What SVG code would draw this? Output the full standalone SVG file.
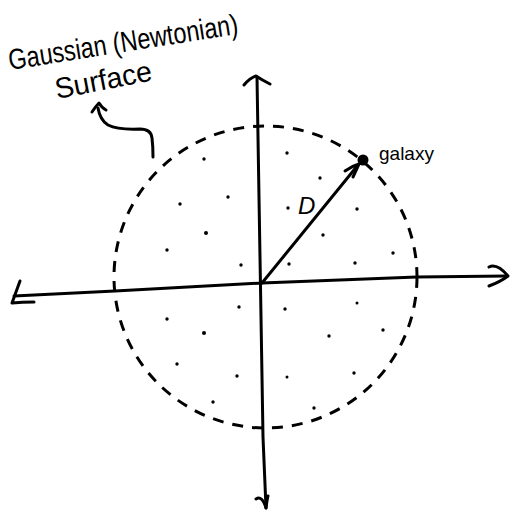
<svg xmlns="http://www.w3.org/2000/svg" width="520" height="519" viewBox="0 0 520 519">
<style>
.ln{fill:none;stroke:#000;stroke-width:3;stroke-linecap:round;stroke-linejoin:round}
.dash{fill:none;stroke:#000;stroke-width:3;stroke-dasharray:11 9}
.hw{font-family:"Liberation Sans",Arial,sans-serif;fill:#000}
.dot{fill:#000}
</style>
<rect width="520" height="519" fill="#fff"/>
<g id="surface">
<ellipse class="dash" cx="265.5" cy="277" rx="151.5" ry="151"/>
</g>
<g id="dots">
<circle class="dot" cx="287" cy="153" r="1.7"/><circle class="dot" cx="204" cy="159" r="1.7"/>
<circle class="dot" cx="320" cy="178" r="1.7"/><circle class="dot" cx="228" cy="197" r="1.7"/>
<circle class="dot" cx="180" cy="204" r="1.7"/><circle class="dot" cx="288" cy="208" r="1.7"/>
<circle class="dot" cx="357" cy="209" r="1.7"/><circle class="dot" cx="206" cy="233" r="2"/>
<circle class="dot" cx="323" cy="235" r="1.7"/><circle class="dot" cx="167" cy="250" r="1.7"/>
<circle class="dot" cx="393" cy="253" r="1.7"/><circle class="dot" cx="241" cy="265" r="1.7"/>
<circle class="dot" cx="289" cy="264" r="1.7"/><circle class="dot" cx="355" cy="263" r="1.7"/>
<circle class="dot" cx="239" cy="307" r="1.7"/><circle class="dot" cx="285" cy="309" r="1.7"/>
<circle class="dot" cx="357" cy="303" r="1.5"/><circle class="dot" cx="167" cy="319" r="1.7"/>
<circle class="dot" cx="204" cy="333" r="2"/><circle class="dot" cx="329" cy="336" r="1.7"/>
<circle class="dot" cx="383" cy="330" r="1.7"/><circle class="dot" cx="177" cy="364" r="1.7"/>
<circle class="dot" cx="237" cy="376" r="1.7"/><circle class="dot" cx="287" cy="377" r="1.5"/>
<circle class="dot" cx="354" cy="373" r="1.7"/><circle class="dot" cx="213" cy="402" r="1.7"/>
<circle class="dot" cx="314" cy="408" r="1.7"/>
</g>
<g id="connectors">
<path class="ln" d="M257 77 L263 437 L266 508"/>
<path class="ln" d="M244 85 Q250 78 256 76 Q262 80 270 84"/>
<path class="ln" d="M256 499 Q262 495 266 508 Q267 500 268 496"/>
<path class="ln" d="M14 296 L115 291 L262 283 L417 277 L507 276"/>
<path class="ln" d="M20 281 Q16 292 12 303 Q22 302 34 302"/>
<path class="ln" d="M489 267 Q497 263 508 276 Q500 282 489 286"/>
<path class="ln" d="M262 283 L358 165"/>
<path class="ln" d="M345 171 Q352 166 359 164 Q356 171 353 177"/>
<path class="ln" d="M153 157 Q153 146 152 138 Q151 129 140 129 Q118 130 108 125 Q100 120 98 108"/>
<path class="ln" d="M92 112 Q96 106 99 103 Q102 108 106 110"/>
</g>
<g id="galaxy">
<circle cx="363" cy="160" r="5.5" fill="#000"/>
<text class="hw" x="379" y="160" font-size="19">galaxy</text>
</g>
<g id="label-D">
<text class="hw" x="298" y="214" font-size="24" font-style="italic">D</text>
</g>
<g id="title">
<text class="hw" font-size="29" textLength="232" lengthAdjust="spacingAndGlyphs" transform="translate(10 70) rotate(-9)">Gaussian (Newtonian)</text>
<text class="hw" font-size="29" textLength="98" lengthAdjust="spacingAndGlyphs" transform="translate(57 99) rotate(-11)">Surface</text>
</g>
</svg>
